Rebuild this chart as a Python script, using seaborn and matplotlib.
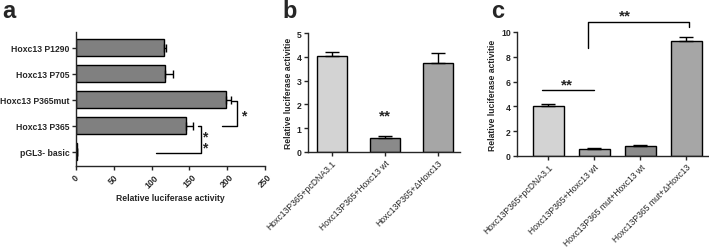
import numpy as np
import pandas as pd
import matplotlib
matplotlib.use("Agg")
import matplotlib.pyplot as plt
import seaborn as sns

# panel a: promoter constructs
a_labels = ["Hoxc13 P1290", "Hoxc13 P705", "Hoxc13 P365mut", "Hoxc13 P365", "pGL3- basic"]
a_values = [116, 118, 199, 146, 1]
a_errors = [3, 10, 6, 9, 0.5]

# panel b
b_labels = ["Hoxc13P365+pcDNA3.1", "Hoxc13P365+Hoxc13 wt", "Hoxc13P365+ΔHoxc13"]
b_values = [4.05, 0.58, 3.72]
b_errors = [0.17, 0.08, 0.45]
b_colors = ["#d3d3d3", "#8a8a8a", "#a6a6a6"]

# panel c
c_labels = ["Hoxc13P365+pcDNA3.1", "Hoxc13P365+Hoxc13 wt",
            "Hoxc13P365 mut+Hoxc13 wt", "Hoxc13P365 mut+ΔHoxc13"]
c_values = [4.05, 0.60, 0.82, 9.25]
c_errors = [0.15, 0.07, 0.10, 0.35]
c_colors = ["#d3d3d3", "#a6a6a6", "#8a8a8a", "#a6a6a6"]

sns.set_style("ticks")
plt.rcParams["font.family"] = ["Liberation Sans", "DejaVu Sans"]
plt.rcParams["axes.linewidth"] = 1.0
plt.rcParams["xtick.major.width"] = 1.0
plt.rcParams["ytick.major.width"] = 1.0
plt.rcParams["xtick.major.size"] = 3
plt.rcParams["ytick.major.size"] = 3
plt.rcParams["xtick.major.pad"] = 1.5
plt.rcParams["ytick.major.pad"] = 1.5

W, H = 709, 251
fig = plt.figure(figsize=(W / 100, H / 100), dpi=100)


def px_axes(x0, y0, x1, y1):
    return fig.add_axes([x0 / W, 1 - y1 / H, (x1 - x0) / W, (y1 - y0) / H])


fs = 6.2
fs_x = 6.2

# ---- panel a ----
ax_a = px_axes(76, 33, 265, 167)
df_a = pd.DataFrame({"label": a_labels, "value": a_values})
sns.barplot(data=df_a, y="label", x="value", color="#808080", width=0.65,
            edgecolor="black", linewidth=1.0, ax=ax_a)
ax_a.errorbar(a_values, np.arange(len(a_values)), xerr=[np.zeros(len(a_errors)), a_errors],
              fmt="none", ecolor="black", elinewidth=1.0, capsize=3, capthick=1.0)
ax_a.set_xlim(0, 250)
ax_a.set_ylim(4.55, -0.6)
ax_a.set_xticks([0, 50, 100, 150, 200, 250])
ax_a.set_xlabel("Relative luciferase activity", fontsize=fs, fontweight="bold", labelpad=3)
ax_a.set_ylabel("")
for t in ax_a.get_xticklabels():
    t.set_rotation(45)
    t.set_fontsize(fs)
    t.set_fontweight("bold")
for t in ax_a.get_yticklabels():
    t.set_fontsize(fs)
    t.set_fontweight("bold")
sns.despine(ax=ax_a)
# significance brackets
ax_a.plot([207, 213.5, 213.5, 193], [2.05, 2.05, 3.0, 3.0], color="black", lw=1, clip_on=False)
ax_a.text(218, 2.62, "*", fontsize=10, fontweight="bold", ha="left", va="center")
ax_a.plot([162, 166, 166, 106], [3.0, 3.0, 4.05, 4.05], color="black", lw=1, clip_on=False)
ax_a.text(167, 3.62, "*\n*", fontsize=10, fontweight="bold", ha="left", va="center",
          linespacing=0.75)

# ---- panel b ----
ax_b = px_axes(308, 34, 460, 153)
df_b = pd.DataFrame({"label": b_labels, "value": b_values})
sns.barplot(data=df_b, x="label", y="value", hue="label", palette=b_colors, legend=False,
            width=0.57, edgecolor="black", linewidth=1.0, ax=ax_b)
ax_b.errorbar(np.arange(len(b_values)), b_values, yerr=[np.zeros(len(b_errors)), b_errors],
              fmt="none", ecolor="black", elinewidth=1.0, capsize=5, capthick=1.0)
ax_b.set_xlim(-0.45, 2.42)
ax_b.set_ylim(0, 5)
ax_b.set_yticks([0, 1, 2, 3, 4, 5])
ax_b.set_xlabel("")
ax_b.set_ylabel("Relative luciferase activitie", fontsize=fs, fontweight="bold", labelpad=3)
ax_b.set_xticks(range(len(b_labels)))
ax_b.set_xticklabels(b_labels, rotation=45, ha="right", rotation_mode="anchor", fontsize=fs_x)
for t in ax_b.get_yticklabels():
    t.set_fontsize(fs)
    t.set_fontweight("bold")
sns.despine(ax=ax_b)
ax_b.text(1, 1.55, "**", fontsize=11, fontweight="bold", ha="center", va="center")

# ---- panel c ----
ax_c = px_axes(517, 33, 709, 157)
df_c = pd.DataFrame({"label": c_labels, "value": c_values})
sns.barplot(data=df_c, x="label", y="value", hue="label", palette=c_colors, legend=False,
            width=0.67, edgecolor="black", linewidth=1.0, ax=ax_c)
ax_c.errorbar(np.arange(len(c_values)), c_values, yerr=[np.zeros(len(c_errors)), c_errors],
              fmt="none", ecolor="black", elinewidth=1.0, capsize=5, capthick=1.0)
ax_c.set_xlim(-0.68, 3.49)
ax_c.set_ylim(0, 10)
ax_c.set_yticks([0, 2, 4, 6, 8, 10])
ax_c.set_xlabel("")
ax_c.set_ylabel("Relative luciferase activitie", fontsize=fs, fontweight="bold", labelpad=3)
ax_c.set_xticks(range(len(c_labels)))
ax_c.set_xticklabels(c_labels, rotation=45, ha="right", rotation_mode="anchor", fontsize=fs_x)
for t in ax_c.get_yticklabels():
    t.set_fontsize(fs)
    t.set_fontweight("bold")
sns.despine(ax=ax_c)
ax_c.plot([0.86, 0.86, 3.05, 3.05], [8.7, 10.8, 10.8, 10.4], color="black", lw=1, clip_on=False)
ax_c.text(1.66, 11.3, "**", fontsize=11, fontweight="bold", ha="center", va="center")
ax_c.plot([-0.14, 1.0], [5.3, 5.3], color="black", lw=1, clip_on=False)
ax_c.text(0.4, 5.8, "**", fontsize=11, fontweight="bold", ha="center", va="center")

# panel letters
fig.text(2 / W, 1 - 18 / H, "a", fontsize=17, fontweight="bold", ha="left", va="baseline")
fig.text(282 / W, 1 - 18 / H, "b", fontsize=17, fontweight="bold", ha="left", va="baseline")
fig.text(491 / W, 1 - 18 / H, "c", fontsize=17, fontweight="bold", ha="left", va="baseline")

fig.savefig("out.png", dpi=100)
